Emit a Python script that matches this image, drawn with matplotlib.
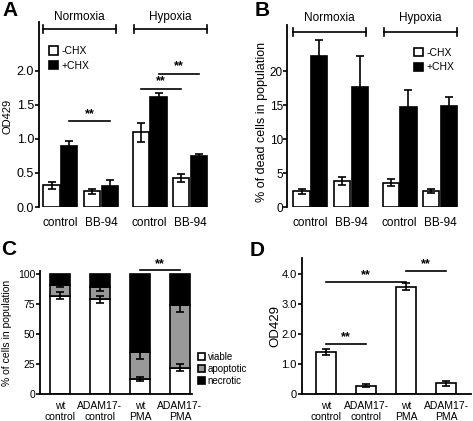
import numpy as np
import matplotlib
matplotlib.use('Agg')
import matplotlib.pyplot as plt
from matplotlib.patches import Patch

plt.rcParams['font.family'] = ['Liberation Sans', 'DejaVu Sans']

# --- A: OD429, -CHX / +CHX ---
ab_ticks = ['control', 'BB-94', 'control', 'BB-94']
ab_conditions = ['Normoxia', 'Hypoxia']
a_minus = [0.32, 0.23, 1.10, 0.43]
a_minus_err = [0.05, 0.04, 0.14, 0.06]
a_plus = [0.89, 0.31, 1.62, 0.75]
a_plus_err = [0.08, 0.08, 0.06, 0.03]

# --- B: % of dead cells ---
b_minus = [2.3, 3.8, 3.6, 2.3]
b_minus_err = [0.4, 0.6, 0.5, 0.3]
b_plus = [22.3, 17.7, 14.7, 14.9]
b_plus_err = [2.3, 4.5, 2.6, 1.35]

# --- C: viable / apoptotic / necrotic ---
cd_ticks = ['wt\ncontrol', 'ADAM17-\ncontrol', 'wt\nPMA', 'ADAM17-\nPMA']
c_viable = [82, 79, 12.5, 22]
c_viable_err = [3, 3, 2, 3]
c_apop = [9, 10, 22.5, 52]
c_apop_err = [2, 3, 5.5, 5.5]
c_necro = [100 - v - a for v, a in zip(c_viable, c_apop)]

# --- D: OD429 ---
d_vals = [1.41, 0.28, 3.58, 0.36]
d_err = [0.10, 0.05, 0.13, 0.08]

LW = 1.2
FS = 8.5
NARROW = ['Liberation Sans Narrow', 'Liberation Sans', 'DejaVu Sans']

fig = plt.figure(figsize=(4.73, 4.21), dpi=100)


def px_axes(l, t, r, b):
    W, H = 473.0, 421.0
    return fig.add_axes([l / W, 1 - b / H, (r - l) / W, (b - t) / H])


def style(ax, bottom=False):
    for s in ['top', 'right']:
        ax.spines[s].set_visible(False)
    ax.spines['bottom'].set_visible(bottom)
    ax.spines['left'].set_linewidth(1.3)
    ax.spines['bottom'].set_linewidth(1.3)
    ax.tick_params(axis='y', length=3, width=1.2, pad=0.5, labelsize=FS)
    ax.tick_params(axis='x', length=0)
    ax.patch.set_alpha(0)


def ebar(ax, x, y, e):
    ax.errorbar(x, y, yerr=e, fmt='none', ecolor='black', elinewidth=LW,
                capsize=3, capthick=LW, zorder=5)


def sig(ax, x0, x1, y, dy):
    ax.plot([x0, x1], [y, y], color='black', lw=LW, clip_on=False)
    ax.text((x0 + x1) / 2, y + dy, '**', ha='center', va='bottom',
            fontsize=9, fontweight='bold', clip_on=False)


def bracket(ax, x0, x1, y, h, label, ly):
    ax.plot([x0, x1], [y, y], color='black', lw=LW, clip_on=False)
    for x in (x0, x1):
        ax.plot([x, x], [y - h, y + h], color='black', lw=LW, clip_on=False)
    ax.text((x0 + x1) / 2, ly, label, ha='center', va='center',
            fontsize=FS, clip_on=False)


pos = np.array([0, 1, 2.2, 3.2])
off, w = 0.22, 0.4


def paired(ax, minus, minus_err, plus, plus_err):
    ax.bar(pos - off, minus, w, color='white', edgecolor='black', lw=LW)
    ax.bar(pos + off, plus, w, color='black', edgecolor='black', lw=LW)
    ebar(ax, pos - off, minus, minus_err)
    ebar(ax, pos + off, plus, plus_err)
    ax.set_xticks(pos)
    ax.set_xticklabels(ab_ticks, fontsize=FS)
    ax.tick_params(axis='x', pad=7)


def chx_legend(ax, x, y):
    handles = [Patch(facecolor='white', edgecolor='black', lw=LW),
               Patch(facecolor='black', edgecolor='black', lw=LW)]
    ax.legend(handles, ['-CHX', '+CHX'], loc='upper left',
              bbox_to_anchor=(x, y), frameon=False, fontsize=7.5,
              handlelength=0.9, handleheight=0.9, handletextpad=0.3,
              labelspacing=0.45, borderpad=0, borderaxespad=0)


# ---------------- A ----------------
axA = px_axes(39, 22, 212, 207)
style(axA)
paired(axA, a_minus, a_minus_err, a_plus, a_plus_err)
axA.set_xlim(-0.53, 3.74)
axA.set_ylim(0, 2.72)
axA.set_yticks([0, 0.5, 1.0, 1.5, 2.0])
axA.set_yticklabels(['0.0', '0.5', '1.0', '1.5', '2.0'])
axA.tick_params(axis='y', labelsize=9)
axA.set_ylabel('OD429', fontsize=8)
axA.yaxis.set_label_coords(-0.156, 0.49)
bracket(axA, pos[0] - 0.43, pos[1] + 0.37, 2.62, 0.06, ab_conditions[0], 2.79)
bracket(axA, pos[2] - 0.39, pos[3] + 0.42, 2.62, 0.06, ab_conditions[1], 2.79)
sig(axA, pos[0] + off, pos[1] + off, 1.26, 0.02)
sig(axA, pos[2] - off, pos[3] - off, 1.74, 0.02)
sig(axA, pos[2] + off, pos[3] + off, 1.96, 0.02)
chx_legend(axA, 0.058, 0.87)

# ---------------- B ----------------
axB = px_axes(287, 25, 468, 207)
style(axB)
paired(axB, b_minus, b_minus_err, b_plus, b_plus_err)
axB.set_xlim(-0.58, 3.89)
axB.set_ylim(0, 26.8)
axB.set_yticks([0, 5, 10, 15, 20])
axB.tick_params(axis='y', labelsize=8.5, pad=0)
axB.set_ylabel('% of dead cells in population', fontsize=9)
axB.yaxis.set_label_coords(-0.105, 0.47)
bracket(axB, pos[0] - 0.43, pos[1] + 0.37, 25.8, 0.6, ab_conditions[0], 27.9)
bracket(axB, pos[2] - 0.39, pos[3] + 0.42, 25.8, 0.6, ab_conditions[1], 27.9)
chx_legend(axB, 0.70, 0.875)

# ---------------- C ----------------
xc = np.arange(4)
bw = 0.5
axC = px_axes(40, 271, 192, 394)
style(axC, bottom=True)
apop_bottom = np.array(c_viable)
necro_bottom = apop_bottom + np.array(c_apop)
axC.bar(xc, c_viable, bw, color='white', edgecolor='black', lw=LW, label='viable')
axC.bar(xc, c_apop, bw, bottom=apop_bottom, color='#999999', edgecolor='black',
        lw=LW, label='apoptotic')
axC.bar(xc, c_necro, bw, bottom=necro_bottom, color='black', edgecolor='black',
        lw=LW, label='necrotic')
ebar(axC, xc, c_viable, c_viable_err)
ebar(axC, xc, necro_bottom, c_apop_err)
axC.set_xlim(-0.5, 3.3)
axC.set_ylim(0, 102.5)
axC.set_yticks([0, 25, 50, 75, 100])
axC.tick_params(axis='y', labelsize=7.5)
axC.set_xticks(xc)
axC.set_xticklabels(cd_ticks, fontsize=7.5, family=NARROW, linespacing=1.1)
axC.tick_params(axis='x', pad=5)
axC.set_ylabel('% of cells in population', fontsize=7.5)
axC.yaxis.set_label_coords(-0.184, 0.5)
sig(axC, xc[2], xc[3], 103, 0.5)
axC.legend(loc='upper left', bbox_to_anchor=(1.04, 0.34), frameon=False,
           fontsize=7, handlelength=0.7, handleheight=0.7, handletextpad=0.3,
           labelspacing=0.2, borderpad=0, borderaxespad=0)

# ---------------- D ----------------
axD = px_axes(301.7, 258, 471, 394)
style(axD, bottom=True)
axD.bar(xc, d_vals, bw, color='white', edgecolor='black', lw=LW)
ebar(axD, xc, d_vals, d_err)
axD.set_xlim(-0.61, 3.62)
axD.set_ylim(0, 4.53)
axD.set_yticks([0, 1, 2, 3, 4])
axD.set_yticklabels(['0', '1.0', '2.0', '3.0', '4.0'])
axD.tick_params(axis='y', labelsize=8)
axD.set_xticks(xc)
axD.set_xticklabels(cd_ticks, fontsize=7.5, family=NARROW, linespacing=1.1)
axD.tick_params(axis='x', pad=5)
axD.set_ylabel('OD429', fontsize=9.5)
axD.yaxis.set_label_coords(-0.122, 0.5)
sig(axD, xc[0], xc[2], 3.74, 0.03)
sig(axD, xc[2], xc[3], 4.10, 0.03)
sig(axD, xc[0], xc[1], 1.65, 0.03)

# panel letters
for lab, x, y in [('A', 2, 1), ('B', 255, 1), ('C', 1, 240), ('D', 250, 241)]:
    fig.text(x / 473, 1 - y / 421, lab, fontsize=15, fontweight='bold',
             ha='left', va='top')

fig.savefig('out.png', dpi=100)
